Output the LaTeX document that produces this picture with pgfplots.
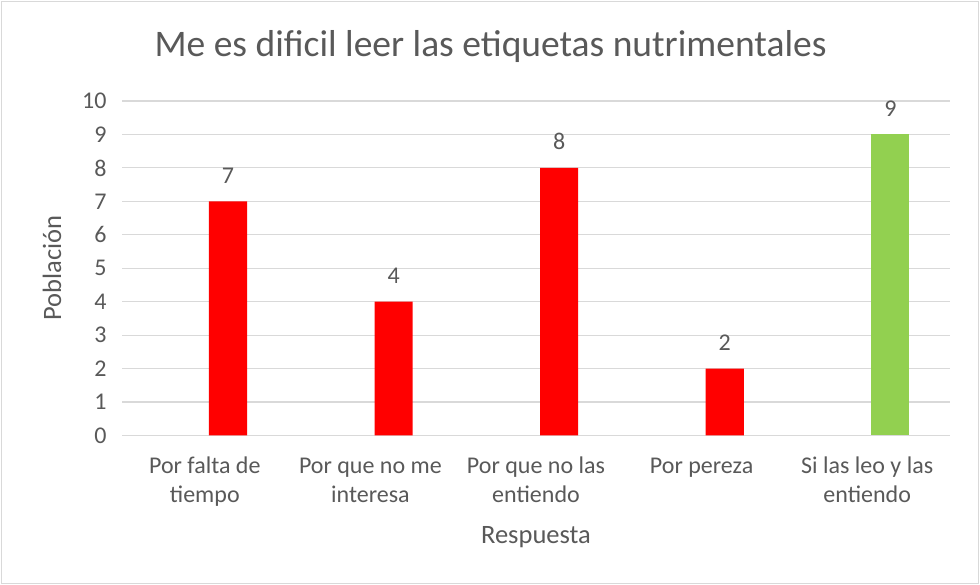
\documentclass[border=0pt]{standalone}
\usepackage{fontspec}
\setmainfont{Carlito}
\usepackage{pgfplots}
\pgfplotsset{compat=1.18}
\definecolor{txt}{RGB}{89,89,89}
\definecolor{gridc}{RGB}{217,217,217}
\definecolor{barred}{RGB}{255,0,0}
\definecolor{bargreen}{RGB}{146,208,80}
\begin{document}
\begin{tikzpicture}[x=1pt,y=1pt]
\useasboundingbox (0,0) rectangle (980,585);
\draw[gridc, line width=1.5pt] (1.5,1.5) rectangle (978.5,583.5);
\node[anchor=base, text=txt, font=\fontsize{37.5}{45}\selectfont] at (490.5,528) {Me es dificil leer las etiquetas nutrimentales};
\begin{axis}[
    at={(122pt,149.5pt)}, anchor=south west,
    scale only axis,
    width=828pt, height=334.5pt,
    ybar, bar shift=0pt, bar width=0.23,
    xmin=-0.5, xmax=4.5,
    ymin=0, ymax=10,
    xtick={0,1,2,3,4},
    xticklabels={{\strut Por falta de\\tiempo},{\strut Por que no me\\interesa},{\strut Por que no las\\entiendo},{\strut Por pereza},{\strut Si las leo y las\\entiendo}},
    ytick={0,1,...,10},
    /pgf/number format/assume math mode=true,
    font=\fontsize{24}{29}\selectfont,
    every tick label/.append style={text=txt},
    xticklabel style={align=center, anchor=north, inner sep=0pt, yshift=-18pt},
    yticklabel style={xshift=-12pt},
    major tick length=0pt,
    axis x line*=bottom, axis y line*=left,
    x axis line style={draw=gridc, line width=1.5pt},
    y axis line style={draw=none},
    ymajorgrids, grid style={draw=gridc, line width=1.2pt},
    ylabel={Población}, xlabel={Respuesta},
    every axis y label/.style={at={(axis description cs:-0.0845,0.5)}, rotate=90, anchor=center, text=txt, font=\fontsize{26.5}{32}\selectfont},
    every axis x label/.style={at={(axis description cs:0.5,-0.3214)}, anchor=base, text=txt, font=\fontsize{26.5}{32}\selectfont},
    nodes near coords,
    nodes near coords style={anchor=base, yshift=18pt, text=txt, inner sep=0pt},
    axis background/.style={fill=none},
]
\addplot[fill=barred, draw=none] coordinates {(0.14,7) (1.14,4) (2.14,8) (3.14,2)};
\addplot[fill=bargreen, draw=none] coordinates {(4.14,9)};
\end{axis}
\end{tikzpicture}
\end{document}
